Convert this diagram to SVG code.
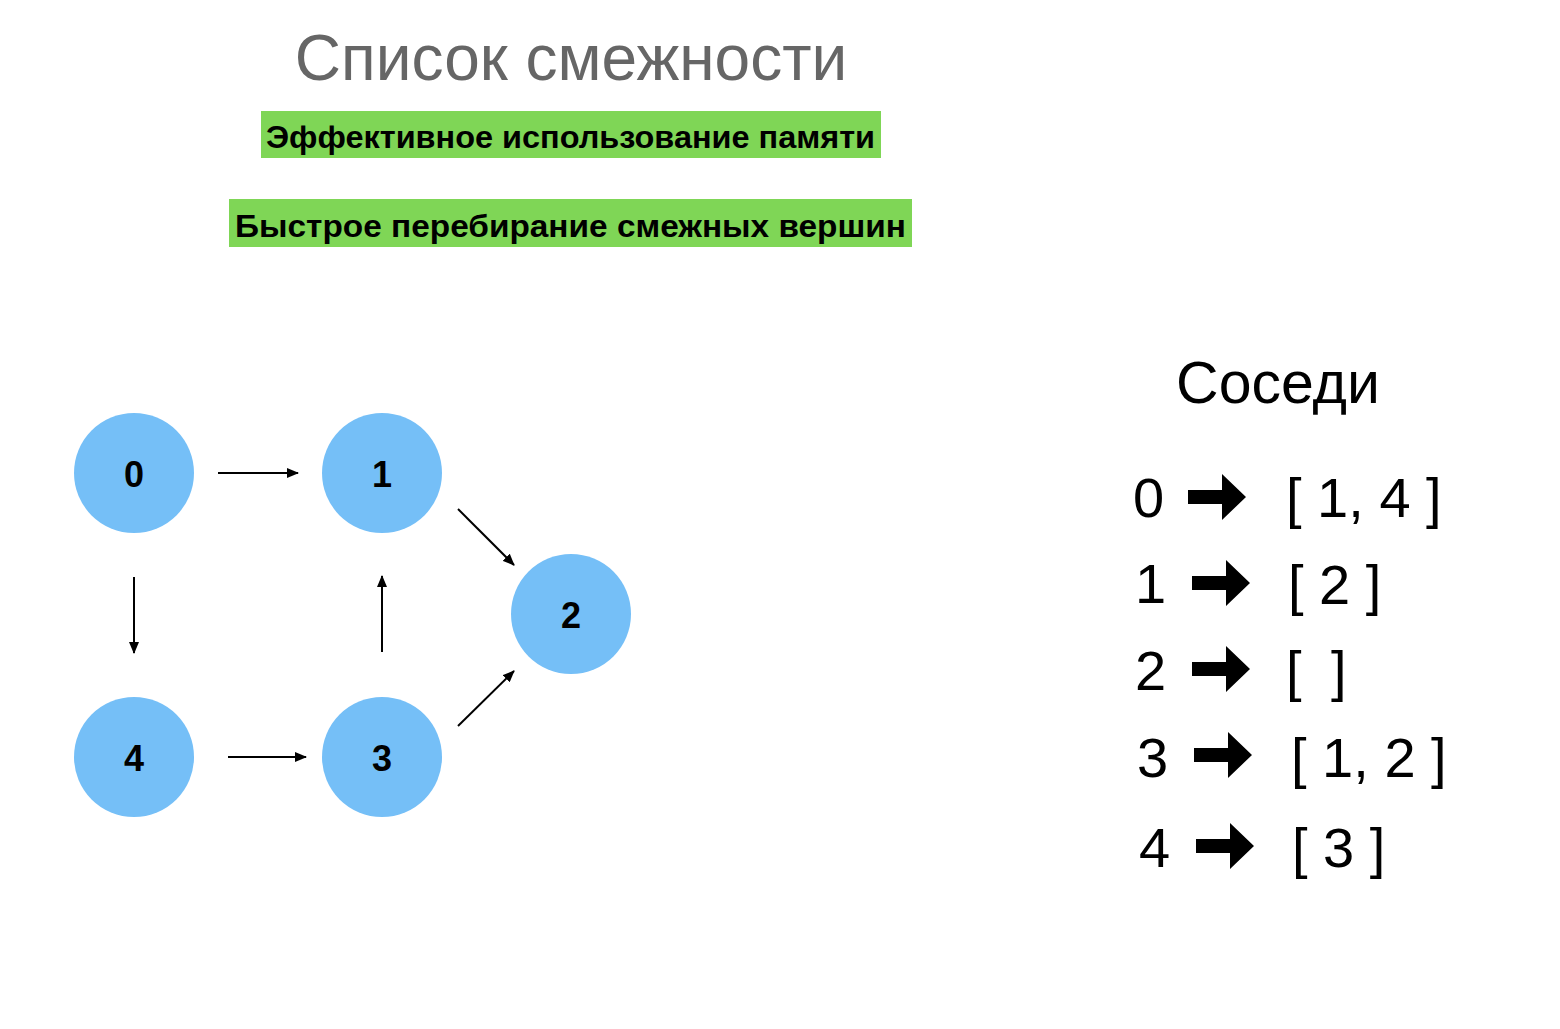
<svg xmlns="http://www.w3.org/2000/svg" width="1560" height="1029" viewBox="0 0 1560 1029">
<style>
.title{font-family:"Liberation Sans",Arial,sans-serif;font-size:64px;fill:#666666}
.tag{font-family:"Liberation Sans",Arial,sans-serif;font-size:32px;font-weight:bold;fill:#000}
.box{fill:#7fd656}
.node{fill:#75bff7}
.nl{font-family:"Liberation Sans",Arial,sans-serif;font-size:36px;font-weight:bold;fill:#000;text-anchor:middle}
.edge{stroke:#000;stroke-width:2;fill:none;marker-end:url(#ah)}
.big{font-family:"Liberation Sans",Arial,sans-serif;font-size:56px;fill:#000}
.fat{fill:#000}
</style>
<defs>
<marker id="ah" markerUnits="userSpaceOnUse" markerWidth="12" markerHeight="10" refX="11" refY="5" orient="auto">
<path d="M0,0 L12,5 L0,10 Z" fill="#000"/>
</marker>
<path id="fa" d="M0,-7 L34,-7 L34,-23 L58,0 L34,23 L34,7 L0,7 Z"/>
</defs>
<rect width="1560" height="1029" fill="#fff"/>
<text class="title" x="571" y="80" text-anchor="middle">Список смежности</text>
<g id="tag1">
<rect class="box" x="261" y="111" width="620" height="47"/>
<text class="tag" x="266" y="148" textLength="609" lengthAdjust="spacingAndGlyphs">Эффективное использование памяти</text>
</g>
<g id="tag2">
<rect class="box" x="229" y="199" width="683" height="48"/>
<text class="tag" x="235" y="237" textLength="671" lengthAdjust="spacingAndGlyphs">Быстрое перебирание смежных вершин</text>
</g>
<g id="connectors">
<line class="edge" x1="218" y1="473" x2="298" y2="473"/>
<line class="edge" x1="134" y1="577" x2="134" y2="653"/>
<line class="edge" x1="228" y1="757" x2="306" y2="757"/>
<line class="edge" x1="382" y1="652" x2="382" y2="576"/>
<line class="edge" x1="458" y1="509" x2="514" y2="565"/>
<line class="edge" x1="458" y1="726" x2="514" y2="671"/>
</g>
<g id="node0"><circle class="node" cx="134" cy="473" r="60"/><text class="nl" x="134" y="487">0</text></g>
<g id="node1"><circle class="node" cx="382" cy="473" r="60"/><text class="nl" x="382" y="487">1</text></g>
<g id="node2"><circle class="node" cx="571" cy="614" r="60"/><text class="nl" x="571" y="628">2</text></g>
<g id="node3"><circle class="node" cx="382" cy="757" r="60"/><text class="nl" x="382" y="771">3</text></g>
<g id="node4"><circle class="node" cx="134" cy="757" r="60"/><text class="nl" x="134" y="771">4</text></g>
<g id="neighbors">
<text class="big" x="1278" y="403" text-anchor="middle" style="font-size:59px">Соседи</text>
<text class="big" x="1133" y="517">0</text>
<use href="#fa" class="fat" x="1188" y="497"/>
<text class="big" x="1286" y="517">[ 1, 4 ]</text>
<text class="big" x="1135" y="603">1</text>
<use href="#fa" class="fat" x="1192" y="583"/>
<text class="big" x="1288" y="604">[ 2 ]</text>
<text class="big" x="1135" y="690">2</text>
<use href="#fa" class="fat" x="1192" y="669"/>
<text class="big" x="1286" y="690">[</text>
<text class="big" x="1331" y="690">]</text>
<text class="big" x="1137" y="777">3</text>
<use href="#fa" class="fat" x="1194" y="755"/>
<text class="big" x="1291" y="777">[ 1, 2 ]</text>
<text class="big" x="1139" y="867">4</text>
<use href="#fa" class="fat" x="1196" y="846"/>
<text class="big" x="1292" y="867">[ 3 ]</text>
</g>
</svg>
